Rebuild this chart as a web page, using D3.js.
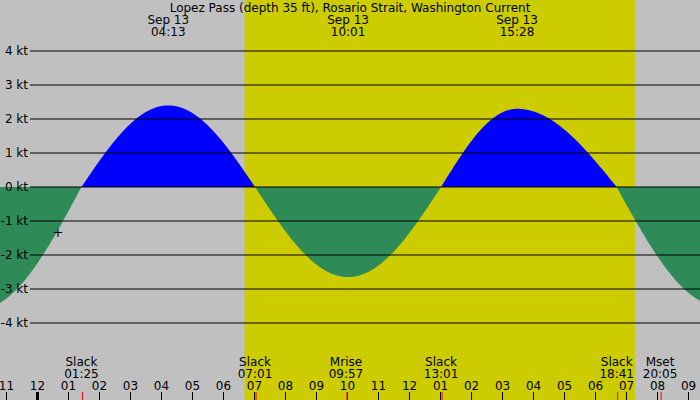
<!DOCTYPE html>
<html><head><meta charset="utf-8">
<script src="https://cdn.jsdelivr.net/npm/d3@7"></script>
<style>body{margin:0}svg{display:block;font-family:"DejaVu Sans",sans-serif}</style>
</head><body><svg id="c" width="700" height="400"></svg>
<script>
// hours since Sep 13 00:00
const extremeHours = [-1.9, 1.417, 4.217, 7.017, 10.017, 13.017, 15.467, 18.683, 22.0]
const extremeValues = [-3.6, 0, 2.4, 0, -2.65, 0, 2.3, 0, -3.5]
const maxLabels = [['Sep 13', '04:13', 4.217], ['Sep 13', '10:01', 10.017], ['Sep 13', '15:28', 15.467]]
const events = [['Slack', '01:25', 1.417], ['Slack', '07:01', 7.017], ['Mrise', '09:57', 9.95],
    ['Slack', '13:01', 13.017], ['Slack', '18:41', 18.683], ['Mset', '20:05', 20.083]]
const ktTicks = [4, 3, 2, 1, 0, -1, -2, -3, -4]
const sunrise = 6.68, sunset = 19.27
const title = 'Lopez Pass (depth 35 ft), Rosario Strait, Washington Current'

const width = 700, height = 400
const svg = d3.select('#c')
const x = d3.scaleLinear().domain([0, 21.37]).range([37.5, 700])
const tMin = x.invert(0), tMax = x.invert(width)
const y = d3.scaleLinear().domain([0, 1]).range([187, 153])

svg.append('rect').attr('width', width).attr('height', height).attr('fill', '#c0c0c0')
svg.append('rect').attr('x', x(sunrise)).attr('width', x(sunset) - x(sunrise))
    .attr('height', height).attr('fill', '#cccc00')

// current curve, quarter-wave between extremes and slacks
const pts = []
for (let t = tMin; t <= tMax + 0.01; t += 0.02) {
    let i = 0
    while (i < extremeHours.length - 2 && t > extremeHours[i + 1]) i++
    const t0 = extremeHours[i], t1 = extremeHours[i + 1]
    const v0 = extremeValues[i], v1 = extremeValues[i + 1]
    const f = (t - t0) / (t1 - t0)
    let v
    if (v0 === 0) v = v1 * Math.sin(f * Math.PI / 2)
    else v = v0 * Math.cos(f * Math.PI / 2)
    pts.push([t, v])
}
const area = d3.area().x(d => x(d[0])).y0(y(0)).y1(d => y(d[1]))
svg.append('clipPath').attr('id', 'pos').append('rect').attr('width', width).attr('height', y(0))
svg.append('clipPath').attr('id', 'neg').append('rect').attr('y', y(0)).attr('width', width).attr('height', height)
svg.append('path').datum(pts).attr('d', area).attr('fill', '#0000ff').attr('clip-path', 'url(#pos)')
svg.append('path').datum(pts).attr('d', area).attr('fill', '#2e8b57').attr('clip-path', 'url(#neg)')

// grid
const grid = svg.append('g')
grid.selectAll('line').data(ktTicks).enter().append('line')
    .attr('x1', 30).attr('x2', width).attr('y1', d => y(d)).attr('y2', d => y(d))
    .attr('stroke', '#000')
grid.selectAll('text').data(ktTicks).enter().append('text')
    .attr('x', 28).attr('y', d => y(d) + 4).attr('text-anchor', 'end')
    .attr('font-size', 12).text(d => `${d} kt`)

svg.append('text').attr('x', 58).attr('y', 237).attr('text-anchor', 'middle')
    .attr('font-size', 13).text('+')

// top labels
svg.append('text').attr('x', 350).attr('y', 12).attr('text-anchor', 'middle')
    .attr('font-size', 12).text(title)
const topLabels = svg.append('g').selectAll('g').data(maxLabels).enter().append('g')
    .attr('transform', d => `translate(${x(d[2])},0)`)
topLabels.append('text').attr('y', 24).attr('text-anchor', 'middle').attr('font-size', 12).text(d => d[0])
topLabels.append('text').attr('y', 36).attr('text-anchor', 'middle').attr('font-size', 12).text(d => d[1])

// bottom events
const ev = svg.append('g').selectAll('g').data(events).enter().append('g')
    .attr('transform', d => `translate(${x(d[2])},0)`)
ev.append('text').attr('y', 366).attr('text-anchor', 'middle').attr('font-size', 12).text(d => d[0])
ev.append('text').attr('y', 378).attr('text-anchor', 'middle').attr('font-size', 12).text(d => d[1])

// hour axis
const hours = d3.range(Math.ceil(tMin), Math.floor(tMax) + 1)
const hl = svg.append('g').selectAll('g').data(hours).enter().append('g')
    .attr('transform', d => `translate(${x(d)},0)`)
hl.append('text').attr('y', 390).attr('text-anchor', 'middle').attr('font-size', 12)
    .text(d => String(((d % 12) + 12) % 12 || 12).padStart(2, '0'))
hl.append('line').attr('y1', 392).attr('y2', 400).attr('stroke', '#000')
    .attr('stroke-width', d => d === 0 ? 3 : 1)
svg.append('g').selectAll('line').data(events).enter().append('line')
    .attr('x1', d => x(d[2]) + 1).attr('x2', d => x(d[2]) + 1)
    .attr('y1', 392).attr('y2', 400).attr('stroke', '#ff0000')
</script></body></html>
